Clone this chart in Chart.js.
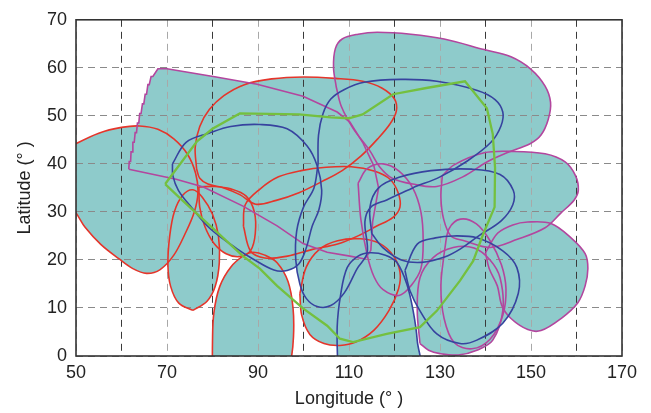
<!DOCTYPE html>
<html>
<head>
<meta charset="utf-8">
<script src="https://cdn.jsdelivr.net/npm/chart.js@4.4.1/dist/chart.umd.min.js"></script>
<style>
  html, body { margin: 0; padding: 0; background: #fff; }
  #wrap { width: 651px; height: 413px; }
</style>
</head>
<body>
<div id="wrap"><canvas id="mapChart"></canvas></div>
<script>
// closed outlines, [longitude, latitude]
const redWest = [[44,38],[46,42],[50,44.2],[55,46.4],[60,47.6],[64,47.9],[68,47.2],[71.5,45.2],[74.5,42],[76.3,38],[76.8,34],[76,30],[74,25.5],[71.5,21],[68.5,18],[65.5,17.2],[62.5,18.2],[59.5,20.2],[55.5,23.2],[52,26.8],[50,29.8],[46.5,34]];
const redOvalB = [[75.7,9.5],[78.8,11.4],[80.6,14.5],[81.5,19.5],[81.3,25],[80,29.5],[77.8,33],[75.7,34.6],[73.5,33.5],[71.6,30],[70.6,25],[70.2,19],[70.8,14.5],[72.6,11]];
const redOvalC = [[80,-6],[80,3],[80.3,9],[81.6,14.5],[84,18.5],[87,21],[89,21.6],[91.5,21],[94.2,19.4],[96.6,15.5],[97.7,10],[97.8,4],[97.2,-1],[95.5,-6]];
const redNorth = [[76.5,39],[76.2,43.5],[77.2,47.8],[79.3,51.3],[82.5,54.2],[87,56.5],[93,57.7],[100,58.1],[107,57.8],[113,57.2],[117.2,55.8],[120,53.5],[120.4,51],[119,48.3],[116.3,45.2],[112.6,41.6],[108.5,38.6],[104,36.3],[99,34],[94,32.4],[89.5,31.6],[86,33.6],[82.5,35],[79,35.8],[77.2,37]];
const redMid = [[86.8,27],[87.2,31.5],[90.5,34.8],[94.5,37.3],[99.5,38.6],[105,39.3],[110.5,39.4],[115.5,38.5],[119,36.8],[120.8,34],[121.2,31],[119.6,28.8],[116,27],[112.4,25.2],[107.5,23.3],[102,22.2],[96.5,20.8],[91.5,20.4],[88.4,21.8]];
const redLens = [[77,35.2],[80.5,35.3],[84,34.8],[87.4,33.3],[89.2,30],[89.4,25.5],[88.4,22],[86,20.7],[83,21.3],[80.3,23.5],[78.3,27],[77.2,31]];
const redSouth = [[99.2,13],[99.6,8.5],[101.4,4.5],[104.5,2.6],[108,2.2],[111.5,2.9],[115.5,5.4],[118.8,9.5],[120.9,14],[121.2,17.5],[119.8,20.8],[116.8,23.4],[112.5,24.4],[107.5,24],[103.5,22.2],[100.6,18.5]];

const magPoly = [[61.6,38.9],[61.7,40.5],[62,40.5],[62.1,42.5],[62.4,42.5],[62.5,44.5],[62.8,44.5],[63,46.5],[63.3,46.5],[63.5,48.5],[63.8,48.5],[64,50.5],[64.3,50.5],[64.6,52.5],[64.9,52.5],[65.2,54.5],[65.5,54.5],[65.8,56.5],[66.1,56.5],[66.5,58.2],[66.9,58.2],[68,59.8],[70,59.8],[80.8,58.1],[89.8,56.6],[99.9,54.1],[107.4,50.8],[110.2,48.7],[113,44.5],[115.5,39.5],[116.5,35],[115.2,28],[114.8,22],[113.5,20.2],[110.2,20.8],[105.2,21.6],[99.9,23.4],[94.2,27.1],[86.7,31.2],[78,35.2],[72,36.8]];
const magNorth = [[107.2,56],[106.6,60],[107,64],[108.5,66],[112,67],[116.2,67.4],[123.6,67],[130.9,66],[139.7,63.8],[145.6,62.3],[150,59.7],[153.1,56.2],[154.3,52.8],[153.8,49.3],[152.2,46],[149.8,44.2],[144.7,42.3],[140.3,40.4],[135,37.3],[129.3,35.3],[124,35.8],[119.5,37],[116.8,39.3],[114.6,42.7],[110.9,47.4],[108.3,52]];
const magEast = [[130.5,37.5],[133.1,39.8],[139.7,42.3],[145.6,42.6],[153.1,42.1],[157.5,40.4],[159.8,37.5],[160.4,34.5],[159.5,32.5],[156.6,29.8],[153.1,26.7],[147,24.3],[141,22.6],[135.3,24],[132.4,25],[130.8,28.5],[130.2,33]];
const magSE = [[140,21.5],[142.7,25.6],[146,27.3],[149.3,27.9],[154.4,27.6],[158.8,24.6],[161.9,21.3],[162.5,18.2],[161.9,14.6],[160.3,11.1],[156.6,7.8],[152.2,5.3],[149.3,5.5],[145.6,7.8],[143.6,10.5],[142.6,14.6],[140.8,18.2]];
const magTall = [[112,36],[112.6,28.5],[114,21],[115.5,16.5],[117.5,13.8],[121,12.6],[123.6,14.6],[125.8,18.2],[126.3,24],[125.8,30],[124,35],[121,38.5],[117.5,40],[114,39]];
const magSouth = [[125.6,2.6],[125,9.4],[125.6,16.3],[128.5,20.5],[132.9,22.6],[137.5,22.5],[141,20],[143.2,16.3],[143.8,9.4],[141.6,3.3],[138.1,1.2],[134,0.2],[130,0.5],[127.5,1.2]];
const magSouth2 = [[131,22],[130.2,14.6],[130.9,7.8],[133.1,2.8],[137,1.5],[141,3.5],[143.8,8.5],[144.5,14],[143.5,19],[141,24],[138,27.5],[134.5,28.5],[132,26.5]];

const blueSE = [[122.3,17.8],[125,23.3],[129,24.6],[132.9,25],[138.1,24.6],[143.8,21.9],[146.9,18.4],[147.2,13],[143.8,6.8],[138.1,3.3],[134.4,2.6],[129.3,4.6],[125.6,9.4],[123.4,13.6]];
const blueSouth = [[107.6,-4],[107.4,6],[108.2,13],[109.6,18.4],[112,20.8],[114.6,21.5],[118,21],[120.5,19.5],[122.7,15],[124.1,9.4],[125,3.2],[125.2,-4]];
const blueWest = [[71.2,40],[74.2,44.5],[79.2,46.4],[84,47.8],[90.4,48.2],[96.4,47.3],[100.8,43.7],[103,39.6],[104,34.5],[103.4,30.5],[101.9,27],[100.6,22.5],[99,19.2],[96.4,17.8],[93.5,17.9],[88.9,20.2],[85.4,22.3],[79.5,26.5],[75.5,30.8],[72.5,34.5],[71.3,37.5]];
const blueNorth = [[103.2,40],[103.3,46],[104.3,50.5],[106,53.5],[109,55.5],[113.3,57],[121.4,57.6],[129.3,57.2],[138.2,55.3],[142.1,53.4],[143.8,50.8],[143.4,47.9],[141.2,44.5],[136,40.6],[130,37.3],[124,35],[118.3,32.5],[114.8,31],[113.5,28],[114,21.5],[111.8,18.2],[109,13.2],[106,10.5],[103,10.3],[100.6,12],[99.2,15],[98.3,20],[98.5,26],[100,31],[102.3,35]];
const blueEast = [[115,25.5],[117.5,22.5],[121.5,20],[126,19.5],[131,20.6],[134.5,22.3],[138.5,25],[143.5,28.2],[146,31.5],[146.1,34.5],[143.2,37.8],[137,38.9],[128,38.6],[121,37.2],[116.5,35],[114.6,31]];

const greenRoute = [[69.6,35.8],[76.6,44.7],[80,47.3],[86,50.5],[99,50.3],[106,49.7],[110,49.5],[113,50.3],[119.7,54.5],[127,55.8],[135.5,57.2],[140.3,51.6],[141.6,46.2],[142.1,39.2],[142,31],[139.5,25.4],[137.3,19.8],[134.4,15.7],[129.3,9.4],[125.6,6],[118.3,4.6],[110.9,2.9],[108,3.6],[105.2,6.3],[99.9,9.9],[94.2,14.6],[90.4,18.2],[86.7,20.8],[79.5,27.1],[73.5,32.3]];

const xTicks = [50, 70, 90, 110, 130, 150, 170];

const TEAL = '#8ecbcb';
const RED = '#e5352b';
const MAG = '#b3469e';
const BLUE = '#37439f';
const GREEN = '#74c03f';

function closed(pts) {
    const d = pts.map(p => ({ x: p[0], y: p[1] }));
    d.push({ x: pts[0][0], y: pts[0][1] });
    return d;
}

function outline(pts, color, smooth, filled) {
    return {
        data: closed(pts),
        borderColor: color,
        backgroundColor: TEAL,
        fill: filled ? 'shape' : false,
        borderWidth: 1.6,
        pointRadius: 0,
        tension: smooth ? 0.35 : 0
    };
}

// first dataset is drawn on top
const datasets = [
    Object.assign(outline(greenRoute, GREEN, false, false), { borderWidth: 2.3 }),
    outline(blueWest, BLUE, true, true),
    outline(blueNorth, BLUE, true, true),
    outline(blueEast, BLUE, true, true),
    outline(blueSouth, BLUE, true, true),
    outline(blueSE, BLUE, true, true),
    outline(magPoly, MAG, false, true),
    outline(magNorth, MAG, true, true),
    outline(magEast, MAG, true, true),
    outline(magSE, MAG, true, true),
    outline(magTall, MAG, true, true),
    outline(magSouth, MAG, true, true),
    outline(magSouth2, MAG, true, true),
    outline(redWest, RED, true, true),
    outline(redOvalB, RED, true, true),
    outline(redOvalC, RED, true, true),
    outline(redNorth, RED, true, true),
    outline(redMid, RED, true, true),
    outline(redLens, RED, true, true),
    outline(redSouth, RED, true, true)
];

const frame = {
    id: 'frame',
    afterDraw(chart) {
        const a = chart.chartArea;
        const ctx = chart.ctx;
        ctx.save();
        ctx.strokeStyle = '#333';
        ctx.lineWidth = 1.6;
        ctx.strokeRect(a.left, a.top, a.right - a.left, a.bottom - a.top);
        ctx.restore();
    }
};

const font = { family: "'Liberation Sans', Arial, sans-serif", size: 18 };

new Chart(document.getElementById('mapChart'), {
    type: 'line',
    data: { datasets },
    plugins: [frame],
    options: {
        responsive: true,
        maintainAspectRatio: false,
        animation: false,
        events: [],
        layout: { padding: { top: 18, right: 29, left: 0, bottom: 0 } },
        plugins: {
            legend: { display: false },
            tooltip: { enabled: false },
            filler: { drawTime: 'beforeDraw' }
        },
        scales: {
            x: {
                type: 'linear',
                min: 50,
                max: 170,
                afterFit: s => { s.height = 57; },
                ticks: {
                    stepSize: 10,
                    autoSkip: false,
                    maxRotation: 0,
                    padding: 6,
                    color: '#222',
                    font,
                    callback: v => xTicks.includes(v) ? v : ''
                },
                grid: {
                    drawTicks: false,
                    lineWidth: 1,
                    color: c => (c.tick && xTicks.includes(c.tick.value)) ? '#a8a8a8' : '#3a3a3a'
                },
                border: { display: false, dash: [7, 5] },
                title: { display: true, text: 'Longitude (° )', color: '#222', font, padding: { top: 0, bottom: 3 } }
            },
            y: {
                type: 'linear',
                min: 0,
                max: 70,
                afterFit: s => { s.width = 76; },
                ticks: { stepSize: 10, padding: 9, color: '#222', font },
                grid: { drawTicks: false, lineWidth: 1, color: '#8a8a8a' },
                border: { display: false, dash: [7, 5] },
                title: { display: true, text: 'Latitude (° )', color: '#222', font, padding: { top: 14, bottom: 0 } }
            }
        }
    }
});
</script>
</body>
</html>
